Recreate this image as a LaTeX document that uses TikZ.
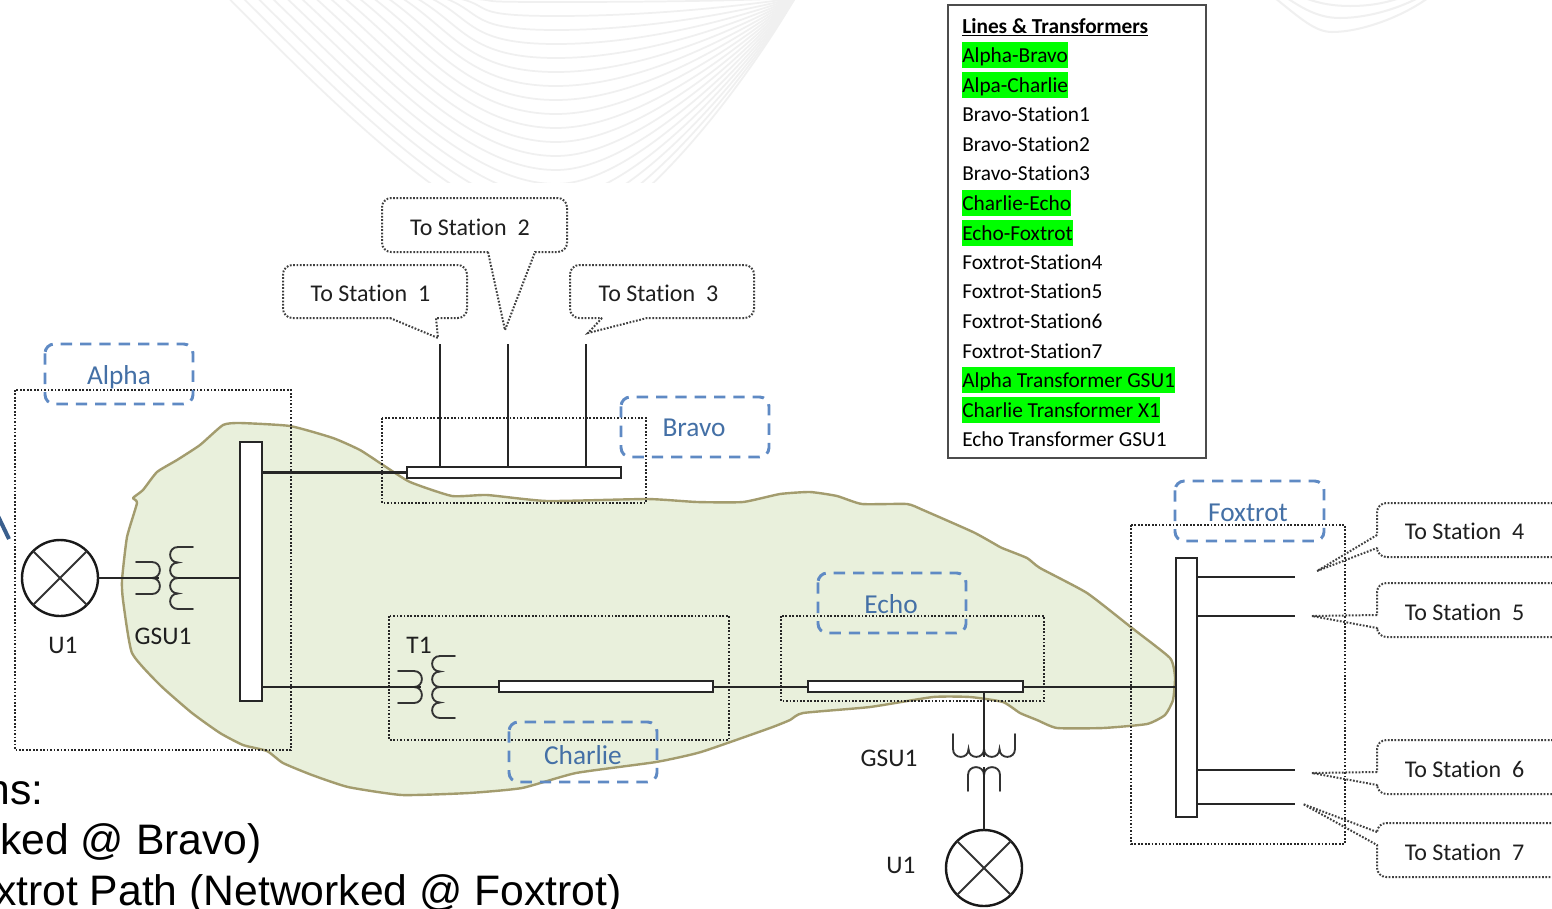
\documentclass[tikz,border=0pt]{standalone}
\usepackage{fontspec}
\setmainfont[Ligatures=NoCommon]{Carlito}
\newfontfamily\arialfont{Liberation Sans}
\definecolor{blobfill}{HTML}{E9F0DC}
\definecolor{blobline}{HTML}{A39C6E}
\definecolor{tagblue}{HTML}{5F8AC4}
\definecolor{tagtext}{HTML}{4470A6}
\definecolor{wmark}{HTML}{F0F0F0}
\tikzset{
  wire/.style={draw=black!85,line width=2.2pt},
  thinwire/.style={draw=black!80,line width=1.4pt,line cap=round},
  busbar/.style={draw=black!85,fill=white,line width=2.2pt,inner sep=0pt,outer sep=0pt},
  gen/.style={circle,draw=black!90,fill=white,line width=1.8pt,minimum size=57pt,inner sep=0pt,outer sep=0pt},
  zonebox/.style={draw=black!85,line width=1.5pt,dash pattern=on 1.3pt off 1.3pt},
  tagbox/.style={draw=tagblue,line width=2.2pt,dash pattern=on 8.5pt off 6pt,rounded corners=7pt},
  tagtxt/.style={text=tagtext,font=\fontsize{20.5}{22}\selectfont,inner sep=0pt},
  calloutline/.style={draw=black!75,line width=1.5pt,dash pattern=on 1.3pt off 1.2pt},
  calltxt/.style={text=black!88,font=\fontsize{18}{20}\selectfont,inner sep=0pt},
  plain/.style={text=black!88,font=\fontsize{19}{21}\selectfont,inner sep=0pt},
  legendtxt/.style={anchor=west,inner sep=0pt,minimum height=19.5pt,text height=14.5pt,text depth=3pt,font=\fontsize{16}{18}\selectfont},
  legendon/.style={legendtxt,fill=green},
  bigtxt/.style={anchor=base east,inner sep=0pt,font=\arialfont\fontsize{32}{34}\selectfont},
  xfmr/.pic={
    \draw[thinwire] (-24,-16) -- (-8,-16) .. controls (2.5,-16) and (2.5,0) .. (-8,0)
       .. controls (2.5,0) and (2.5,16) .. (-8,16) -- (-24,16);
    \draw[thinwire] (33,-31) -- (18,-31) .. controls (7.5,-31) and (7.5,-15.5) .. (18,-15.5)
       .. controls (7.5,-15.5) and (7.5,0) .. (18,0)
       .. controls (7.5,0) and (7.5,15.5) .. (18,15.5)
       .. controls (7.5,15.5) and (7.5,31) .. (18,31) -- (33,31);
  }
}
\begin{document}
\begin{tikzpicture}[x=0.75pt,y=-0.75pt]
\clip (0,0) rectangle (1552,908);
\fill[white] (0,0) rectangle (1552,908);
% watermark
\begin{scope}
\clip (0,0) rectangle (1552,182);
\foreach \k in {0,...,17}{
  \pgfmathsetmacro{\yk}{2+14*\k}
  \pgfmathsetmacro{\sk}{476-14.5*\k}
  \pgfmathsetmacro{\cxa}{\sk+0.33*(556-\sk)}
  \pgfmathsetmacro{\cya}{0.45*\yk}
  \pgfmathsetmacro{\cxb}{470}
  \pgfmathsetmacro{\rx}{650-1.6*\k}
  \pgfmathsetmacro{\ry}{0.42*\yk}
  \draw[wmark,line width=1.3pt] (\sk,-1) .. controls (\cxa,\cya) and (\cxb,\yk) .. (556,\yk)
     .. controls (\rx,\yk) and (735,\ry) .. (795,-2);
}
\end{scope}
\draw[wmark,line width=1.5pt] (1275,-2) .. controls (1300,18) and (1315,32) .. (1332,32) .. controls (1360,32) and (1400,18) .. (1428,-2);
\draw[wmark,line width=1.5pt] (1287,-2) .. controls (1305,10) and (1320,18) .. (1340,18) .. controls (1365,18) and (1395,10) .. (1418,-2);
\draw[wmark,line width=1.5pt] (1305,-2) .. controls (1320,4) and (1335,6) .. (1350,6) .. controls (1370,6) and (1385,3) .. (1400,-2);
% blob
\draw[blobline,fill=blobfill,line width=1.8pt,line join=round] plot[smooth cycle,tension=0.3] coordinates {
 (223,425)(240,423)(290,426)(333,438)(360,450)(383,465)(410,482)(452,496)(487,495)(547,501)(647,499)(697,502)(743,502)(780,494)(810,492)(837,496)(862,504)(907,504)(923,510)(973,532)(993,543)(1002,548)(1027,558)(1040,568)(1087,593)(1132,628)(1170,658)(1175,677)(1173,700)(1165,715)(1147,724)(1103,728)(1057,728)(1037,720)(1020,713)(1003,702)(970,697)(933,697)(870,707)(803,713)(790,720)(770,728)(701,752)(656,762)(576,773)(522,788)(469,793)(402,795)(348,787)(312,775)(283,763)(267,751)(243,745)(220,733)(192,713)(160,685)(132,653)(123,600)(122,580)(127,537)(137,503)(133,498)(143,490)(157,472)(177,460)(200,445)};
% blue arrow fragment
\draw[draw=tagtext!85!black,line width=3pt] (-2,516) -- (9,539);
% zone boxes
\draw[zonebox] (15,390) rectangle (291,750);
\draw[zonebox] (382,418) rectangle (646,503);
\draw[zonebox] (389,616) rectangle (729,740);
\draw[zonebox] (781,616) rectangle (1044,701);
\draw[zonebox] (1131,525) rectangle (1345,844);
% bars
\node[busbar,minimum width=16.5pt,minimum height=194.25pt] (alphabar) at (251,571.5) {};
\node[busbar,minimum width=160.5pt,minimum height=8.25pt] (bravobus) at (514,472.5) {};
\node[busbar,minimum width=160.5pt,minimum height=8.25pt] (charliebus) at (606,686.5) {};
\node[busbar,minimum width=161.25pt,minimum height=8.25pt] (echobus) at (915.5,686.5) {};
\node[busbar,minimum width=15.75pt,minimum height=194.25pt] (foxbar) at (1186.5,687.5) {};
% generators
\node[gen] (gena) at (60,578) {};
\node[gen] (gene) at (984,868) {};
\draw[thinwire] (gena.45) -- (gena.225) (gena.135) -- (gena.315);
\draw[thinwire] (gene.45) -- (gene.225) (gene.135) -- (gene.315);
% transformers
\pic at (160,578) {xfmr};
\pic at (422,687) {xfmr};
\pic[rotate=90] at (984,767) {xfmr};
\coordinate (xap) at (159,578); \coordinate (xas) at (178,578);
\coordinate (xcp) at (421,687); \coordinate (xcs) at (440,687);
\coordinate (xep) at (984,767); \coordinate (xes) at (984,757);
\coordinate (st1) at (440,344); \coordinate (st2) at (508,344); \coordinate (st3) at (586,344);
\coordinate (st4) at (1295,577); \coordinate (st5) at (1295,616);
\coordinate (st6) at (1295,770); \coordinate (st7) at (1295,804);
% connectors
\draw[wire] (gena) -- (xap);
\draw[wire] (xas) -- (alphabar.west |- xas);
\draw[wire] (alphabar.east |- bravobus.west) -- (bravobus.west);
\draw[wire] (alphabar.east |- xcp) -- (xcp);
\draw[wire] (xcs) -- (charliebus.west |- xcs);
\draw[wire] (charliebus.east |- xcs) -- (echobus.west |- xcs);
\draw[wire] (echobus.east |- xcs) -- (foxbar.west |- xcs);
\draw[wire] (xes |- echobus.south) -- (xes);
\draw[wire] (xep) -- (gene);
\draw[wire] (st1) -- (st1 |- bravobus.north);
\draw[wire] (st2) -- (st2 |- bravobus.north);
\draw[wire] (st3) -- (st3 |- bravobus.north);
\draw[wire] (foxbar.east |- st4) -- (st4);
\draw[wire] (foxbar.east |- st5) -- (st5);
\draw[wire] (foxbar.east |- st6) -- (st6);
\draw[wire] (foxbar.east |- st7) -- (st7);
% tag boxes
\draw[tagbox] (45,344) rectangle (193,404);
\draw[tagbox] (621,397) rectangle (769,457);
\draw[tagbox] (818,573) rectangle (966,633);
\draw[tagbox] (509,722) rectangle (657,782);
\draw[tagbox] (1175,481) rectangle (1324,541);
\node[tagtxt] (talpha) at (119,377) {Alpha};
\node[tagtxt] (tbravo) at (694,428) {Bravo};
\node[tagtxt] (techo) at (891,604) {Echo};
\node[tagtxt] (tcharlie) at (583,755) {Charlie};
\node[tagtxt] (tfox) at (1248,513) {Foxtrot};
% callouts
\draw[calloutline] (390,318) -- (438,338) -- (436,318) [rounded corners=7pt] -- (467,318) -- (467,265) -- (283,265) -- (283,318) -- (390,318);
\draw[calloutline] (488,252) -- (505,330) -- (535,252) [rounded corners=7pt] -- (567,252) -- (567,198) -- (382,198) -- (382,252) -- (488,252);
\draw[calloutline] (602,318) -- (588,333) -- (647,318) [rounded corners=7pt] -- (754,318) -- (754,265) -- (570,265) -- (570,318) -- (602,318);
\draw[calloutline] (1377,535) -- (1317,571) -- (1377,548) [rounded corners=7pt] -- (1377,557) -- (1562,557) -- (1562,503) -- (1377,503) -- (1377,535);
\draw[calloutline] (1377,615) -- (1312,616) -- (1377,628) [rounded corners=7pt] -- (1377,637) -- (1562,637) -- (1562,583) -- (1377,583) -- (1377,615);
\draw[calloutline] (1377,772) -- (1312,773) -- (1377,785) [rounded corners=7pt] -- (1377,794) -- (1562,794) -- (1562,740) -- (1377,740) -- (1377,772);
\draw[calloutline] (1377,832) -- (1303,804) -- (1377,845) [rounded corners=7pt] -- (1377,877) -- (1562,877) -- (1562,823) -- (1377,823) -- (1377,832);
\node[calltxt] (c1) at (370.5,293) {To Station\ \ 1};
\node[calltxt] (c2) at (470,227) {To Station\ \ 2};
\node[calltxt] (c3) at (658.5,293) {To Station\ \ 3};
\node[calltxt] (c4) at (1464.5,531) {To Station\ \ 4};
\node[calltxt] (c5) at (1464.5,612) {To Station\ \ 5};
\node[calltxt] (c6) at (1464.5,769) {To Station\ \ 6};
\node[calltxt] (c7) at (1464.5,852) {To Station\ \ 7};
% labels
\node[plain] (lu1) at (63,645) {U1};
\node[plain] (lg1) at (163,636) {GSU1};
\node[plain] (lt1) at (419,645) {T1};
\node[plain] (lg2) at (889,758) {GSU1};
\node[plain] (lu2) at (901,865) {U1};
% legend
\draw[draw=black!70,line width=1.3pt] (948,5) rectangle (1206,458);
\node[legendtxt] (h0) at (962,26) {\underline{\textbf{Lines \& Transformers}}};
\node[legendon] (l1) at (962,55) {Alpha-Bravo};
\node[legendon] (l2) at (962,85) {Alpa-Charlie};
\node[legendtxt] (l3) at (962,114) {Bravo-Station1};
\node[legendtxt] (l4) at (962,144) {Bravo-Station2};
\node[legendtxt] (l5) at (962,173) {Bravo-Station3};
\node[legendon] (l6) at (962,203) {Charlie-Echo};
\node[legendon] (l7) at (962,233) {Echo-Foxtrot};
\node[legendtxt] (l8) at (962,262) {Foxtrot-Station4};
\node[legendtxt] (l9) at (962,291) {Foxtrot-Station5};
\node[legendtxt] (l10) at (962,321) {Foxtrot-Station6};
\node[legendtxt] (l11) at (962,351) {Foxtrot-Station7};
\node[legendon] (l12) at (962,380) {Alpha Transformer GSU1};
\node[legendon] (l13) at (962,410) {Charlie Transformer X1};
\node[legendtxt] (l14) at (962,439) {Echo Transformer GSU1};
% clipped body text
\node[bigtxt] (b1) at (44,804) {ns:};
\node[bigtxt] (b2) at (262,854) {ked @ Bravo)};
\node[bigtxt] (b3) at (622,905) {xtrot Path (Networked @ Foxtrot)};
\end{tikzpicture}
\end{document}
